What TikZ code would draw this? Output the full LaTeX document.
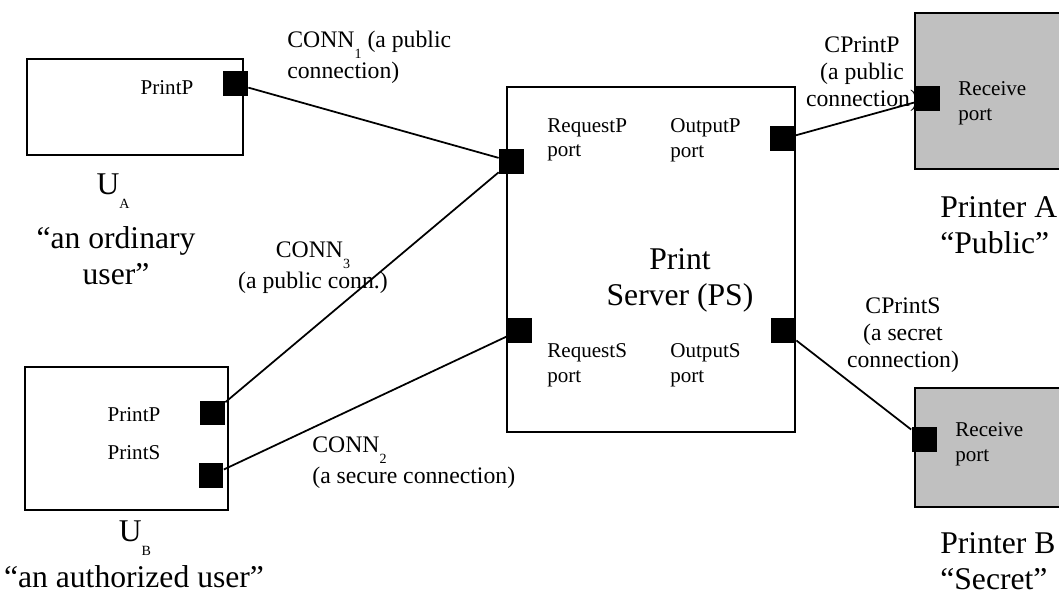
\documentclass[tikz,border=0pt]{standalone}
\usepackage{fontspec}
\setmainfont{Liberation Serif}
\usetikzlibrary{positioning}
\definecolor{printergray}{RGB}{192,192,192}
\newcommand{\lowsub}[1]{\raisebox{-1ex}{\fontsize{8}{9}\selectfont #1}}
\tikzset{
    unitbox/.style={draw, line width=1pt, inner sep=0pt},
    printerbox/.style={unitbox, fill=printergray},
    port/.style={fill=black, minimum size=0.5cm, inner sep=0pt},
    portlabel/.style={font=\fontsize{12}{14}\selectfont, align=left, inner sep=0pt},
    connlabel/.style={font=\fontsize{13.5}{15.5}\selectfont, align=center, inner sep=0pt},
    subconnlabel/.style={connlabel, font=\fontsize{13.5}{17.5}\selectfont},
    biglabel/.style={font=\fontsize{18}{20.5}\selectfont, align=center, inner sep=0pt},
    link/.style={line width=1pt}
}
\begin{document}
\begin{tikzpicture}[x=0.02cm, y=-0.02cm]
    \useasboundingbox (0,0) rectangle (1059,594);
    \clip (0,0) rectangle (1059,594);
    % users
    \node[unitbox, minimum width=4.32cm, minimum height=1.92cm] (ua) at (135,107) {};
    \node[unitbox, minimum width=4.06cm, minimum height=2.86cm] (ub) at (126.5,438.5) {};
    \node[port] (uaP) at (235.5,84) {};
    \node[port] (ubP) at (212.5,413) {};
    \node[port] (ubS) at (211,475.5) {};
    \node[portlabel] (uaPtxt) at (167,88) {PrintP};
    \node[portlabel] (ubPtxt) at (134,415) {PrintP};
    \node[portlabel] (ubStxt) at (134,453) {PrintS};
    \node[biglabel] (uaname) at (113,191) {U\lowsub{A}};
    \node[biglabel] (uadesc) at (116,256) {``an ordinary\\user''};
    \node[biglabel] (ubname) at (135,538) {U\lowsub{B}};
    \node[biglabel] (ubdesc) at (134,577) {``an authorized user''};
    % print server
    \node[unitbox, minimum width=5.76cm, minimum height=6.9cm] (ps) at (651,259.5) {};
    \node[port] (reqP) at (511.5,161.5) {};
    \node[port] (outP) at (782.5,139) {};
    \node[port] (reqS) at (519.5,330.5) {};
    \node[port] (outS) at (783.5,330.5) {};
    \node[portlabel, anchor=west] (reqPtxt) at (547,140) {RequestP\\port};
    \node[portlabel, anchor=west] (outPtxt) at (670,140) {OutputP\\port};
    \node[portlabel, anchor=west] (reqStxt) at (547,365) {RequestS\\port};
    \node[portlabel, anchor=west] (outStxt) at (670,365) {OutputS\\port};
    \node[biglabel] (pstxt) at (680,280) {Print\\Server (PS)};
    % printers
    \node[printerbox, minimum width=3.3cm, minimum height=3.12cm] (pa) at (997.5,91) {};
    \node[printerbox, minimum width=3.3cm, minimum height=2.38cm] (pb) at (997.5,447.5) {};
    \node[port] (paR) at (927,99) {};
    \node[port] (pbR) at (924,439.5) {};
    \node[portlabel, anchor=west] (paRtxt) at (958,103) {Receive\\port};
    \node[portlabel, anchor=west] (pbRtxt) at (955,444) {Receive\\port};
    \node[biglabel, align=left, anchor=west] (paname) at (940,225) {Printer A\\``Public''};
    \node[biglabel, align=left, anchor=west] (pbname) at (940,561) {Printer B\\``Secret''};
    % connections
    \draw[link] (uaP) -- (reqP);
    \draw[link] (ubP) -- (reqP);
    \draw[link] (ubS) -- (reqS);
    \draw[link] (outP) -- (paR);
    \draw[link] (outS) -- (pbR);
    \node[subconnlabel, align=left, anchor=west] (c1) at (287,57) {CONN\lowsub{1} (a public\\connection)};
    \node[subconnlabel] (c3) at (313,268) {CONN\lowsub{3}\\(a public conn.)};
    \node[subconnlabel, align=left, anchor=west] (c2) at (312,463) {CONN\lowsub{2}\\(a secure connection)};
    \node[connlabel] (cp) at (862,74) {CPrintP\\(a public\\connection)};
    \node[connlabel] (cs) at (903,335) {CPrintS\\(a secret\\connection)};
\end{tikzpicture}
\end{document}
